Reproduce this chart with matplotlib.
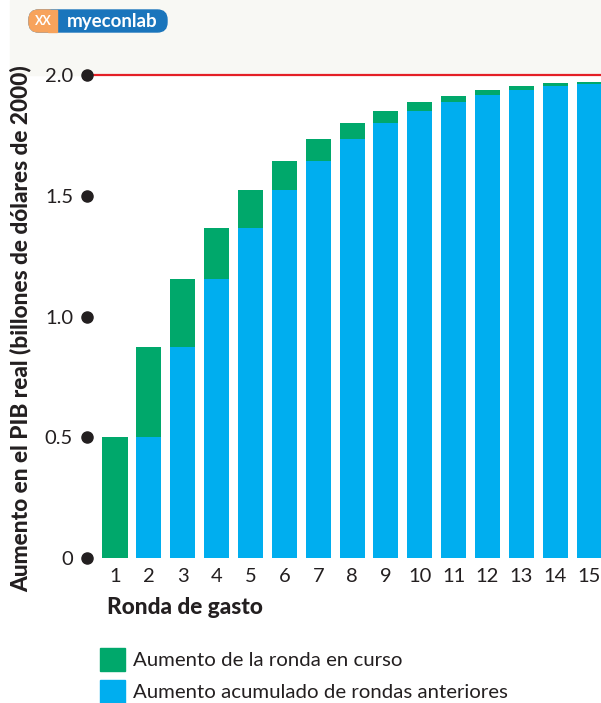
import matplotlib.pyplot as plt
import matplotlib.patches as mpatches

plt.rc('font', family=['Lato', 'DejaVu Sans'], size=14.5)

# data
rounds = list(range(1, 16))
previous = [0.0, 0.5, 0.875, 1.156, 1.367, 1.525, 1.644, 1.733,
            1.800, 1.850, 1.887, 1.916, 1.937, 1.953, 1.964]
current = [0.5, 0.375, 0.281, 0.211, 0.158, 0.119, 0.089, 0.067,
           0.050, 0.038, 0.028, 0.021, 0.016, 0.012, 0.009]
yticks = [0, 0.5, 1.0, 1.5, 2.0]
ytick_labels = ['0', '0.5', '1.0', '1.5', '2.0']

green = '#00a86b'
blue = '#00aeef'
red = '#e41f26'
txt = '#231f20'

W, H = 601, 703
fig = plt.figure(figsize=(W / 100, H / 100), dpi=100)
fig.patch.set_facecolor('white')

# light band at top
fig.patches.append(mpatches.Rectangle((10 / W, (H - 75) / H), 1 - 10 / W, 75 / H,
                                      transform=fig.transFigure, color='#f8f8f4',
                                      zorder=-5))

ax = fig.add_axes([87 / W, (H - 558) / H, 1 - 87 / W, (558 - 75) / H])
ax.set_facecolor('white')

ax.bar(rounds, previous, width=0.74, color=blue, zorder=2)
ax.bar(rounds, current, width=0.74, bottom=previous, color=green, zorder=2)

ax.set_xlim(0.173, 15.35)
ax.set_ylim(0, 2.0)

ax.axhline(2.0, color=red, linewidth=1.6, clip_on=False, zorder=3)
ax.plot([0.173] * len(yticks), yticks, 'o', color=txt, markersize=8,
        clip_on=False, zorder=4)

for s in ax.spines.values():
    s.set_visible(False)

ax.set_yticks(yticks)
ax.set_yticklabels(ytick_labels, color=txt)
ax.set_xticks(rounds)
ax.set_xticklabels([str(r) for r in rounds], color=txt)
ax.tick_params(axis='y', length=0, pad=10)
ax.tick_params(axis='x', length=0, pad=7)

fig.text(21 / W, 1 - 329 / H, 'Aumento en el PIB real (billones de dólares de 2000)',
         rotation=90, ha='center', va='center', fontsize=16.3, fontweight='black',
         color=txt)
fig.text(107 / W, 1 - 607 / H, 'Ronda de gasto', ha='left', va='center',
         fontsize=16.3, fontweight='black', color=txt)

# legend
for y0, c, label in [(648, green, 'Aumento de la ronda en curso'),
                     (680, blue, 'Aumento acumulado de rondas anteriores')]:
    fig.patches.append(mpatches.Rectangle((100 / W, 1 - (y0 + 23) / H), 25 / W, 23 / H,
                                          transform=fig.transFigure, color=c))
    fig.text(133 / W, 1 - (y0 + 12) / H, label, ha='left', va='center',
             fontsize=14.7, color=txt)

# logo
fig.patches.append(mpatches.FancyBboxPatch((29 / W, 1 - 32 / H), 138 / W, 22 / H,
                                           boxstyle='round,pad=0,rounding_size=0.016',
                                           transform=fig.transFigure,
                                           color='#1a75bc', mutation_aspect=W / H))
fig.patches.append(mpatches.FancyBboxPatch((29 / W, 1 - 32 / H), 28 / W, 22 / H,
                                           boxstyle='round,pad=0,rounding_size=0.016',
                                           transform=fig.transFigure,
                                           color='#f7a35c', mutation_aspect=W / H))
fig.patches.append(mpatches.Rectangle((48 / W, 1 - 32 / H), 9 / W, 22 / H,
                                      transform=fig.transFigure, color='#f7a35c'))
fig.text(43 / W, 1 - 21 / H, 'XX', ha='center', va='center', fontsize=9,
         color='white', fontweight='bold')
fig.text(112 / W, 1 - 21 / H, 'myeconlab', ha='center', va='center', fontsize=13.5,
         color='white', fontweight='bold')

fig.savefig('out.png', dpi=100)
